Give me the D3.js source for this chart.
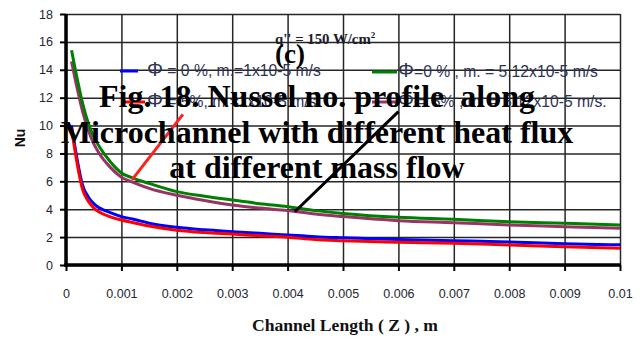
<!DOCTYPE html>
<html>
<head>
<meta charset="utf-8">
<script src="https://cdn.jsdelivr.net/npm/d3@7"></script>
<style>
  body { margin: 0; background: #fff; }
  svg { display: block; }
</style>
</head>
<body>
<svg class="svg-chart" width="643" height="340"></svg>
<script>
// Nusselt number along the microchannel, q'' = 150 W/cm2
var zPos = [0.0001, 0.0002, 0.0003, 0.0004, 0.0005, 0.0006, 0.0008, 0.001, 0.0012, 0.0015,
  0.002, 0.0025, 0.003, 0.0035, 0.004, 0.0045, 0.005, 0.006, 0.007, 0.008, 0.009, 0.01];

var nuBlue   = [10.0, 7.6, 5.7, 4.9, 4.4, 4.1, 3.75, 3.47, 3.3, 3.0, 2.7, 2.52, 2.39, 2.27, 2.15, 2.03, 1.95, 1.82, 1.74, 1.65, 1.52, 1.45];
var nuRed    = [9.8, 7.3, 5.4, 4.6, 4.1, 3.8, 3.45, 3.23, 3.05, 2.8, 2.5, 2.33, 2.22, 2.1, 1.99, 1.82, 1.74, 1.63, 1.56, 1.43, 1.31, 1.2];
var nuGreen  = [15.4, 13.4, 11.6, 10.2, 9.2, 8.5, 7.4, 6.6, 6.25, 5.85, 5.26, 4.93, 4.66, 4.4, 4.18, 3.9, 3.7, 3.42, 3.28, 3.1, 2.99, 2.87];
var nuPurple = [14.6, 12.7, 11.0, 9.7, 8.7, 8.0, 7.0, 6.3, 5.95, 5.5, 5.0, 4.62, 4.3, 4.08, 3.9, 3.65, 3.47, 3.18, 3.03, 2.87, 2.75, 2.63];

var xTicks = [0, 0.001, 0.002, 0.003, 0.004, 0.005, 0.006, 0.007, 0.008, 0.009, 0.01];
var xTickLabels = ["0", "0.001", "0.002", "0.003", "0.004", "0.005", "0.006", "0.007", "0.008", "0.009", "0.01"];
var yTicks = [0, 2, 4, 6, 8, 10, 12, 14, 16, 18];

var seriesNames = ["\u03A6 = 0 %, m.=1x10-5 m/s", "\u03A6 = 5%, m.=1x10-5 m/s",
  "\u03A6=0 % , m. = 5.12x10-5 m/s", "\u03A6 = 5% , m. = 5.12x10-5 m/s."];

var titleLines = ["Fig. 18. Nussel no. profile\u00a0 along", "Microchannel with different heat flux", "at different mass flow"];

// hand drawn pointer lines, in data units [z0, nu0, z1, nu1]
var pointerRed = [0.00119, 6.1, 0.00211, 10.8];
var pointerBlack = [0.00413, 3.82, 0.006, 11.0];

var margin = {top: 14, right: 23, bottom: 75, left: 66},
    width = 643 - margin.left - margin.right,
    height = 340 - margin.top - margin.bottom;

var svg = d3.select(".svg-chart");
var chart = svg.append("g")
    .attr("transform", "translate(" + margin.left + "," + margin.top + ")");

var x = d3.scaleLinear().domain([0, 0.01]).range([0, width]);
var y = d3.scaleLinear().domain([0, 18]).range([height, 0]);

// grid through d3 axes with long ticks
var xGrid = chart.append("g").attr("class", "x-grid")
    .attr("transform", "translate(0," + height + ")")
    .attr("color", "#262626")
    .call(d3.axisBottom(x).tickValues(xTicks).tickSize(-height).tickFormat(""));
var yGrid = chart.append("g").attr("class", "y-grid")
    .attr("color", "#262626")
    .call(d3.axisLeft(y).tickValues(yTicks).tickSize(-width).tickFormat(""));
[xGrid, yGrid].forEach(function(g) {
  g.select(".domain").remove();
  g.selectAll(".tick line").attr("stroke-width", 1.5);
});

// short tick marks + labels
var xAxis = d3.axisBottom(x).tickValues(xTicks).tickSize(6).tickPadding(18)
    .tickFormat(function(d, i) { return xTickLabels[i]; });
var gx = chart.append("g").attr("class", "x-axis")
    .attr("transform", "translate(0," + height + ")")
    .attr("color", "#000")
    .call(xAxis);
var yAxis = d3.axisLeft(y).tickValues(yTicks).tickSize(6).tickPadding(7);
var gy = chart.append("g").attr("class", "y-axis")
    .attr("color", "#000")
    .call(yAxis);

[gx, gy].forEach(function(g) {
  g.select(".domain").attr("stroke-width", 3.5);
  g.selectAll(".tick line").attr("stroke-width", 2);
  g.selectAll("text").attr("fill", "#262630")
    .style("font-family", "Arial, 'Liberation Sans', sans-serif")
    .style("font-size", "12.5px");
});
gx.select(".domain").attr("d", "M-1.75,0H" + (width + 1));
gy.select(".domain").attr("d", "M0," + (height + 1.75) + "V0");

// curves
var line = d3.line()
    .x(function(d, i) { return x(zPos[i]); })
    .y(function(d) { return y(d); })
    .curve(d3.curveMonotoneX);

var series = [
  {vals: nuPurple, color: "#993366"},
  {vals: nuGreen, color: "#008000"},
  {vals: nuBlue, color: "#0000ff"},
  {vals: nuRed, color: "#ff0000"}
];
chart.selectAll(".curve").data(series).enter().append("path")
    .attr("class", "curve")
    .attr("d", function(s) { return line(s.vals); })
    .attr("fill", "none")
    .attr("stroke", function(s) { return s.color; })
    .attr("stroke-width", 3);

// legend
var legend = [
  {name: seriesNames[0], color: "#0000ff", sx: 120, sw: 18, tx: 147, ty: 70},
  {name: seriesNames[1], color: "#ff0000", sx: 122, sw: 23, tx: 147, ty: 101},
  {name: seriesNames[2], color: "#008000", sx: 372, sw: 25, tx: 398, ty: 71},
  {name: seriesNames[3], color: "#993366", sx: 372, sw: 25, tx: 398, ty: 101}
];
legend.forEach(function(l) {
  svg.append("line").attr("x1", l.sx).attr("x2", l.sx + l.sw).attr("y1", l.ty + 1).attr("y2", l.ty + 1)
    .attr("stroke", l.color).attr("stroke-width", 3);
  var t = svg.append("text").attr("x", l.tx).attr("y", l.ty + 6)
    .attr("fill", "#2f3452")
    .style("font-family", "Arial, 'Liberation Sans', sans-serif")
    .style("font-size", "15.7px");
  t.append("tspan").style("font-size", "20px").text(l.name.charAt(0));
  t.append("tspan").text(l.name.slice(1));
});

// pointers
[[pointerRed, "#ff2020"], [pointerBlack, "#000"]].forEach(function(p) {
  chart.append("line")
    .attr("x1", x(p[0][0])).attr("y1", y(p[0][1]))
    .attr("x2", x(p[0][2])).attr("y2", y(p[0][3]))
    .attr("stroke", p[1]).attr("stroke-width", 3);
});

// annotations
var q = svg.append("text").attr("x", 275).attr("y", 44)
    .attr("fill", "#1c1c2c")
    .style("font-family", "'Liberation Serif', 'Times New Roman', serif")
    .style("font-weight", "bold").style("font-size", "14.8px");
q.append("tspan").text("q'' = 150 W/cm");
q.append("tspan").attr("dy", -6).style("font-size", "9px").text("2");

svg.append("text").attr("x", 275).attr("y", 63)
    .attr("fill", "#000")
    .style("font-family", "'Liberation Serif', 'Times New Roman', serif")
    .style("font-weight", "bold").style("font-size", "27px")
    .text("(c)");

svg.selectAll(".fig-title").data(titleLines).enter().append("text")
    .attr("class", "fig-title")
    .attr("x", 317)
    .attr("y", function(d, i) { return 107 + i * 35.5; })
    .attr("text-anchor", "middle")
    .attr("fill", "#000")
    .style("font-family", "'Liberation Serif', 'Times New Roman', serif")
    .style("font-weight", "bold").style("font-size", "32px")
    .text(function(d) { return d; });

// axis titles
svg.append("text").attr("x", 345).attr("y", 331).attr("text-anchor", "middle")
    .attr("fill", "#111")
    .attr("textLength", 186).attr("lengthAdjust", "spacingAndGlyphs")
    .style("font-family", "'Liberation Serif', 'Times New Roman', serif")
    .style("font-weight", "bold").style("font-size", "17px")
    .text("Channel Length ( Z ) , m");

svg.append("text").attr("transform", "translate(25,138) rotate(-90)").attr("text-anchor", "middle")
    .attr("fill", "#111")
    .style("font-family", "Arial, 'Liberation Sans', sans-serif")
    .style("font-weight", "bold").style("font-size", "14px")
    .text("Nu");
</script>
</body>
</html>
